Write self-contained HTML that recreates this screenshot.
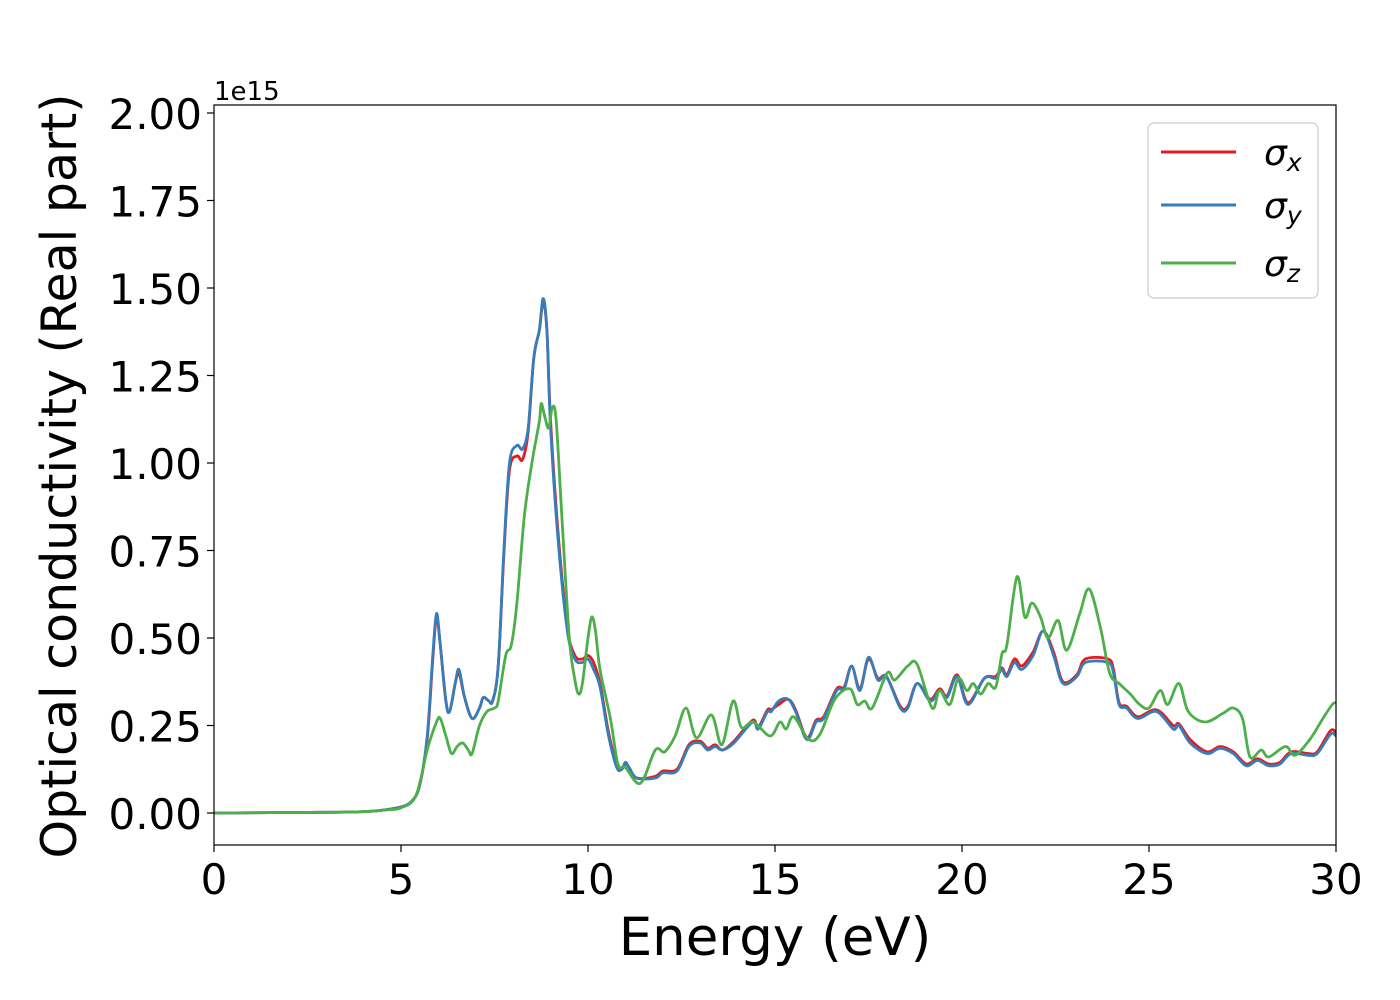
<!DOCTYPE html>
<html><head><meta charset="utf-8">
<style>
html,body{margin:0;padding:0;background:#fff;}
svg{display:block;font-family:"DejaVu Sans","Liberation Sans",sans-serif;}
</style></head>
<body>
<svg id="chart" width="1400" height="1000" viewBox="0 0 1400 1000" xmlns="http://www.w3.org/2000/svg">
<rect x="0" y="0" width="1400" height="1000" fill="#fff"/>
<g id="series"></g>
<rect x="214" y="105" width="1122" height="740" fill="none" stroke="#000" stroke-width="1.2"/>
<g id="xticks"></g>
<g id="yticks"></g>
<text x="214" y="100" font-size="26">1e15</text>
<text x="775" y="955" font-size="53" text-anchor="middle">Energy (eV)</text>
<text transform="translate(76,476) rotate(-90)" font-size="49" text-anchor="middle">Optical conductivity (Real part)</text>
<g>
<rect x="1148" y="123" width="170" height="175" rx="6" fill="#fff" fill-opacity="0.8" stroke="#ccc" stroke-width="1.2"/>
<line x1="1161" y1="152" x2="1236" y2="152" stroke="#e41a1c" stroke-width="3"/>
<text x="1264" y="165" font-size="36" font-style="italic">σ<tspan font-size="25" dy="6">x</tspan></text>
<line x1="1161" y1="205" x2="1236" y2="205" stroke="#377eb8" stroke-width="3"/>
<text x="1264" y="218" font-size="36" font-style="italic">σ<tspan font-size="25" dy="6">y</tspan></text>
<line x1="1161" y1="263" x2="1236" y2="263" stroke="#4daf4a" stroke-width="3"/>
<text x="1264" y="276" font-size="36" font-style="italic">σ<tspan font-size="25" dy="6">z</tspan></text>
</g>
</svg>
<script>
const xTicks = [0, 5, 10, 15, 20, 25, 30];
const yTicks = [0, 0.25, 0.5, 0.75, 1.0, 1.25, 1.5, 1.75, 2.0];
const yTickLabels = ["0.00","0.25","0.50","0.75","1.00","1.25","1.50","1.75","2.00"];
const energyXY = [0,3,4,4.5,5,5.3,5.5,5.7,5.85,5.95,6.05,6.2,6.3,6.45,6.55,6.7,6.9,7.1,7.2,7.35,7.45,7.6,7.75,7.9,8.1,8.25,8.4,8.55,8.7,8.8,8.9,9.0,9.2,9.45,9.65,9.85,10.0,10.15,10.32,10.55,10.77,10.9,11.0,11.1,11.3,11.8,12.0,12.38,12.7,13.0,13.2,13.4,13.6,13.9,14.4,14.55,14.8,14.9,15.1,15.35,15.55,15.85,16.1,16.3,16.65,16.85,17.05,17.27,17.5,17.75,17.98,18.35,18.55,18.8,19.15,19.4,19.6,19.87,20.16,20.6,20.9,21.06,21.2,21.4,21.6,21.9,22.17,22.45,22.7,23.07,23.3,23.9,24.05,24.2,24.4,24.7,25.2,25.65,25.8,26.1,26.55,26.9,27.25,27.6,27.9,28.2,28.5,28.8,29.25,29.5,29.85,30];
const sigmaY = [0,0.002,0.004,0.008,0.017,0.035,0.08,0.22,0.45,0.57,0.48,0.32,0.29,0.37,0.41,0.33,0.27,0.30,0.33,0.32,0.32,0.42,0.75,1.00,1.05,1.04,1.10,1.30,1.38,1.47,1.38,1.10,0.78,0.52,0.44,0.43,0.44,0.41,0.36,0.22,0.13,0.125,0.145,0.13,0.10,0.10,0.115,0.12,0.19,0.20,0.18,0.19,0.18,0.20,0.26,0.24,0.29,0.29,0.32,0.325,0.29,0.21,0.26,0.27,0.35,0.355,0.42,0.35,0.445,0.38,0.39,0.30,0.30,0.37,0.32,0.35,0.33,0.39,0.31,0.385,0.385,0.41,0.39,0.43,0.41,0.45,0.52,0.45,0.37,0.39,0.43,0.43,0.40,0.31,0.30,0.27,0.29,0.24,0.25,0.20,0.17,0.185,0.17,0.135,0.15,0.135,0.14,0.17,0.165,0.17,0.225,0.22];
const sigmaX = [0,0.002,0.004,0.008,0.017,0.035,0.08,0.21,0.44,0.56,0.48,0.32,0.29,0.37,0.40,0.33,0.27,0.30,0.33,0.32,0.32,0.42,0.74,0.98,1.02,1.01,1.09,1.30,1.38,1.46,1.38,1.12,0.80,0.53,0.45,0.44,0.45,0.43,0.37,0.23,0.135,0.125,0.14,0.13,0.10,0.105,0.12,0.125,0.195,0.205,0.185,0.195,0.18,0.205,0.265,0.245,0.295,0.295,0.31,0.325,0.295,0.215,0.265,0.275,0.355,0.36,0.42,0.355,0.44,0.385,0.39,0.305,0.305,0.37,0.325,0.355,0.335,0.395,0.315,0.385,0.39,0.415,0.395,0.44,0.42,0.46,0.52,0.46,0.375,0.395,0.44,0.44,0.41,0.315,0.305,0.275,0.295,0.25,0.255,0.21,0.175,0.19,0.175,0.14,0.155,0.14,0.145,0.175,0.17,0.175,0.235,0.23];
const energyZ = [0,3,4,4.5,5,5.4,5.7,5.95,6.05,6.2,6.35,6.5,6.65,6.8,6.9,7.1,7.3,7.5,7.6,7.8,7.95,8.1,8.3,8.5,8.7,8.75,8.85,8.95,9.05,9.15,9.3,9.5,9.65,9.75,9.85,10.0,10.1,10.2,10.32,10.6,10.8,11.0,11.4,11.8,12.05,12.33,12.62,12.9,13.3,13.58,13.88,14.1,14.42,14.87,15.13,15.3,15.5,15.9,16.2,16.6,17.0,17.2,17.4,17.6,18.0,18.2,18.55,18.8,19.2,19.4,19.67,19.9,20.13,20.3,20.5,20.7,20.9,21.07,21.2,21.47,21.68,21.87,22.1,22.3,22.57,22.8,23.15,23.4,23.7,23.95,24.2,24.5,24.75,25.0,25.3,25.5,25.8,26.05,26.5,26.98,27.25,27.5,27.7,28.0,28.2,28.65,28.9,29.3,29.65,29.9,30];
const sigmaZ = [0,0.002,0.004,0.008,0.015,0.05,0.18,0.26,0.27,0.22,0.17,0.19,0.20,0.18,0.17,0.25,0.29,0.30,0.32,0.45,0.48,0.60,0.85,1.00,1.12,1.17,1.13,1.10,1.16,1.12,0.85,0.50,0.38,0.34,0.37,0.50,0.56,0.52,0.41,0.27,0.14,0.13,0.085,0.18,0.175,0.22,0.30,0.215,0.28,0.195,0.32,0.245,0.26,0.22,0.26,0.24,0.275,0.21,0.225,0.325,0.355,0.31,0.32,0.30,0.40,0.38,0.42,0.425,0.30,0.35,0.31,0.385,0.35,0.37,0.34,0.37,0.36,0.455,0.48,0.675,0.56,0.60,0.56,0.50,0.55,0.465,0.57,0.64,0.53,0.40,0.37,0.34,0.31,0.30,0.35,0.31,0.37,0.29,0.26,0.285,0.30,0.27,0.16,0.18,0.16,0.19,0.165,0.21,0.27,0.31,0.315];

const NS = "http://www.w3.org/2000/svg";
const X0 = 214, X1 = 1336, XMIN = 0, XMAX = 30;
const Y0 = 813, PXPER = 350;
function xScale(v){ return X0 + (v - XMIN) / (XMAX - XMIN) * (X1 - X0); }
function yScale(v){ return Y0 - v * PXPER; }

function smoothPath(xs, ys){
  const p = xs.map((x,i)=>[xScale(x), yScale(ys[i])]);
  let d = "M" + p[0][0].toFixed(1) + "," + p[0][1].toFixed(1);
  for (let i=0;i<p.length-1;i++){
    const a = p[Math.max(0,i-1)], b = p[i], c = p[i+1], e = p[Math.min(p.length-1,i+2)];
    const t = 1/6;
    const c1 = [b[0]+(c[0]-a[0])*t, b[1]+(c[1]-a[1])*t];
    const c2 = [c[0]-(e[0]-b[0])*t, c[1]-(e[1]-b[1])*t];
    d += " C" + c1[0].toFixed(1)+","+c1[1].toFixed(1)+" "+c2[0].toFixed(1)+","+c2[1].toFixed(1)+" "+c[0].toFixed(1)+","+c[1].toFixed(1);
  }
  return d;
}

const series = document.getElementById("series");
const clip = document.createElementNS(NS, "clipPath");
clip.setAttribute("id", "plotclip");
const cr = document.createElementNS(NS, "rect");
cr.setAttribute("x", X0); cr.setAttribute("y", 105); cr.setAttribute("width", X1 - X0); cr.setAttribute("height", 740);
clip.appendChild(cr);
series.appendChild(clip);
series.setAttribute("clip-path", "url(#plotclip)");

function addLine(xs, ys, color, name){
  const path = document.createElementNS(NS, "path");
  path.setAttribute("d", smoothPath(xs, ys));
  path.setAttribute("fill", "none");
  path.setAttribute("stroke", color);
  path.setAttribute("stroke-width", "2.8");
  path.setAttribute("stroke-linejoin", "round");
  
  
  series.appendChild(path);
}
addLine(energyXY, sigmaX, "#e41a1c", "line-sigma-x");
addLine(energyXY, sigmaY, "#377eb8", "line-sigma-y");
addLine(energyZ, sigmaZ, "#4daf4a", "line-sigma-z");

const xg = document.getElementById("xticks");
xTicks.forEach(v=>{
  const x = xScale(v);
  const tk = document.createElementNS(NS, "line");
  tk.setAttribute("x1", x); tk.setAttribute("x2", x); tk.setAttribute("y1", 845); tk.setAttribute("y2", 852);
  tk.setAttribute("stroke", "#000"); tk.setAttribute("stroke-width", "1.2");
  
  
  xg.appendChild(tk);
  const t = document.createElementNS(NS, "text");
  t.setAttribute("x", x); t.setAttribute("y", 894);
  t.setAttribute("font-size", "42"); t.setAttribute("text-anchor", "middle");
  t.textContent = String(v);
  
  
  xg.appendChild(t);
});
const yg = document.getElementById("yticks");
yTicks.forEach((v,i)=>{
  const y = yScale(v);
  const tk = document.createElementNS(NS, "line");
  tk.setAttribute("x1", 207); tk.setAttribute("x2", 214); tk.setAttribute("y1", y); tk.setAttribute("y2", y);
  tk.setAttribute("stroke", "#000"); tk.setAttribute("stroke-width", "1.2");
  
  
  yg.appendChild(tk);
  const t = document.createElementNS(NS, "text");
  t.setAttribute("x", 202); t.setAttribute("y", y + 16);
  t.setAttribute("font-size", "42"); t.setAttribute("text-anchor", "end");
  t.textContent = yTickLabels[i];
  
  
  yg.appendChild(t);
});
</script>
</body></html>
